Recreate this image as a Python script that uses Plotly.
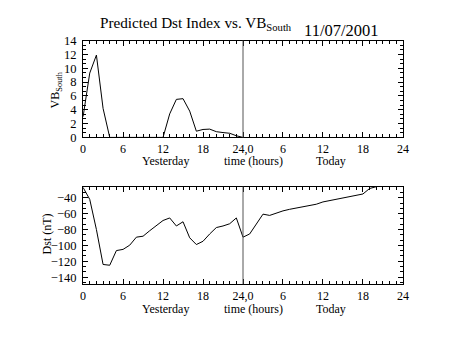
import plotly.graph_objects as go

# ---- data ----
hours_vb = list(range(0, 25))
vb_south = [3.0, 9.3, 11.9, 4.2, 0, 0, 0, 0, 0, 0, 0, 0, 0,
            3.4, 5.5, 5.6, 3.8, 0.9, 1.15, 1.2, 0.83, 0.7, 0.6, 0.24, 0.0]

hours_dst = list(range(0, 45))
dst = [-27, -42, -80, -124, -125, -106.5, -105, -99.7, -89.6, -88.4, -81.5,
       -74.7, -68.6, -65.4, -75.5, -70.2, -90.4, -98.9, -94.8, -85.6, -77.5,
       -75.5, -72.7, -65.4, -89.6, -85.6, -73.5, -60.6, -62.2, -59.3, -56.5,
       -54.5, -52.9, -52.1, -50.5, -48.1, -45.2, -43.6, -42, -40.4, -38.4,
       -37.2, -35.2, -28.3, -26]

x_tickvals = [0, 6, 12, 18, 24, 30, 36, 42, 48]
x_ticktext = ["0", "6", "12", "18", "24,0", "6", "12", "18", "24"]

W, H = 454, 341
FONT = "Liberation Serif"

fig = go.Figure()
fig.add_trace(go.Scatter(x=hours_vb, y=vb_south, mode="lines",
                         line=dict(color="black", width=1), xaxis="x", yaxis="y",
                         showlegend=False))
fig.add_trace(go.Scatter(x=hours_dst, y=dst, mode="lines",
                         line=dict(color="black", width=1), xaxis="x2", yaxis="y2",
                         showlegend=False))

xd = [81.7 / W, 408 / W]

def xaxis_common(anchor):
    return dict(domain=xd, range=[0, 48], anchor=anchor,
                tickvals=x_tickvals, ticktext=x_ticktext,
                ticks="inside", ticklen=5, tickwidth=1, tickcolor="black",
                minor=dict(dtick=1, tick0=0, ticks="inside", ticklen=3,
                           tickcolor="black", tickwidth=1),
                showline=True, linecolor="black", linewidth=1, mirror="allticks",
                showgrid=False, zeroline=False, ticklabelstandoff=0,
                tickfont=dict(family=FONT, size=12, color="black"))

def yaxis_common(anchor, rng, dtick, tick0, mdtick, dom):
    return dict(domain=dom, range=rng, anchor=anchor, dtick=dtick, tick0=tick0,
                ticks="inside", ticklen=5, tickwidth=1, tickcolor="black",
                minor=dict(dtick=mdtick, tick0=tick0, ticks="inside", ticklen=3,
                           tickcolor="black", tickwidth=1),
                showline=True, linecolor="black", linewidth=1, mirror="allticks",
                showgrid=False, zeroline=False, ticklabelstandoff=3,
                tickfont=dict(family=FONT, size=12.5, color="black"))

fig.update_layout(
    width=W, height=H, margin=dict(l=0, r=0, t=0, b=0),
    paper_bgcolor="white", plot_bgcolor="white",
    xaxis=xaxis_common("y"),
    xaxis2=xaxis_common("y2"),
    yaxis=yaxis_common("x", [0, 14], 2, 0, 2 / 3,
                       [(H - 136) / H, (H - 35) / H]),
    yaxis2=yaxis_common("x2", [-148.8, -25.9], 20, -40, 20 / 3,
                        [(H - 289) / H, (H - 187.3) / H]),
)

# vertical divider at 24h
for xr, yr in (("x", "y domain"), ("x2", "y2 domain")):
    fig.add_shape(type="line", xref=xr, yref=yr, x0=24, x1=24, y0=0, y1=1,
                  line=dict(color="#555555", width=1))

af = dict(family=FONT, size=12, color="black")
ann = []
# title
ann.append(dict(text="Predicted Dst Index vs. VB<sub>South</sub>", x=97 / W, y=(H - 29) / H,
                xref="paper", yref="paper", xanchor="left", yanchor="bottom",
                showarrow=False, font=dict(family=FONT, size=15.2, color="black")))
ann.append(dict(text="11/07/2001", x=386 / W, y=(H - 24) / H,
                xref="paper", yref="paper", xanchor="right", yanchor="middle",
                showarrow=False, font=dict(family=FONT, size=16.5, color="black")))
# bottom labels rows
for yrow in (160.5, 314.5):
    for txt, xc in (("Yesterday", 165.8), ("time (hours)", 255.5), ("Today", 334.7)):
        ann.append(dict(text=txt, x=xc / W, y=(H - yrow) / H, xref="paper", yref="paper",
                        xanchor="center", yanchor="middle", showarrow=False, font=af))
# y titles
ann.append(dict(text="VB<sub>South</sub>", x=55 / W, y=(H - 86) / H, xref="paper", yref="paper",
                xanchor="center", yanchor="middle", textangle=-90, showarrow=False, font=af))
ann.append(dict(text="Dst (nT)", x=45 / W, y=(H - 237) / H, xref="paper", yref="paper",
                xanchor="center", yanchor="middle", textangle=-90, showarrow=False, font=af))
fig.update_layout(annotations=ann)

fig.write_html("out.html")
